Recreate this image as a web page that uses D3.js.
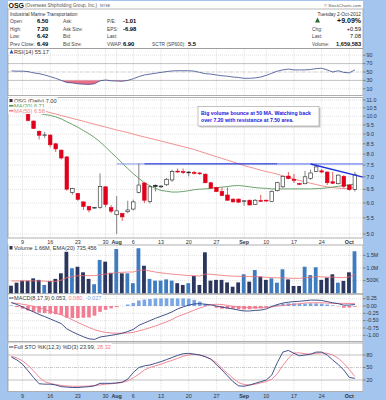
<!DOCTYPE html>
<html><head><meta charset="utf-8">
<script src="https://cdn.jsdelivr.net/npm/d3@7"></script>
<style>body{margin:0;background:#a3c5ee}svg{display:block;font-family:"Liberation Sans",Arial,sans-serif}</style>
</head><body><script>
// trading days, Jul 5 .. Oct 2 2012
const dates = ["07-05","07-06","07-09","07-10","07-11","07-12","07-13","07-16","07-17","07-18","07-19","07-20","07-23","07-24","07-25","07-26","07-27","07-30","07-31",
  "08-01","08-02","08-03","08-06","08-07","08-08","08-09","08-10","08-13","08-14","08-15","08-16","08-17","08-20","08-21","08-22","08-23","08-24","08-27","08-28","08-29","08-30","08-31",
  "09-04","09-05","09-06","09-07","09-10","09-11","09-12","09-13","09-14","09-17","09-18","09-19","09-20","09-21","09-24","09-25","09-26","09-27","09-28","10-01","10-02"];
const open = [10.95,10.70,10.50,10.12,9.72,9.15,8.95,8.95,8.50,8.19,7.87,6.38,6.35,6.04,5.88,5.84,5.85,6.60,5.84,
  5.60,5.64,5.70,5.79,6.39,6.75,6.06,6.66,6.60,6.68,6.87,7.24,7.22,7.20,7.18,7.16,7.11,6.76,6.58,6.42,6.29,6.14,6.14,
  6.07,6.10,5.95,6.09,6.10,6.05,6.45,6.60,7.03,6.90,6.73,6.72,6.93,7.23,7.25,7.20,6.80,6.72,7.02,6.67,6.50];
const high = [11.05,10.80,10.60,10.20,9.75,9.20,9.12,8.98,8.55,8.22,7.90,6.56,6.36,6.05,5.90,5.87,7.14,6.62,5.93,
  6.25,5.66,6.08,6.12,7.58,6.78,6.67,6.70,6.66,6.95,7.30,7.35,7.35,7.23,7.25,7.20,7.14,6.78,6.60,6.58,6.58,6.16,6.16,
  6.10,6.12,6.14,6.30,6.12,6.46,6.80,7.05,7.20,7.12,6.76,7.25,7.30,7.52,7.33,7.22,7.20,7.10,7.07,6.70,7.20];
const low = [10.60,10.40,10.25,9.70,9.28,8.72,8.80,8.32,8.10,7.75,6.45,6.30,6.08,5.76,5.68,5.80,5.80,5.85,5.65,
  5.00,5.40,5.65,5.74,6.35,6.00,5.98,6.42,6.55,6.63,6.80,7.17,7.12,7.02,7.10,7.08,6.74,6.52,6.40,6.25,6.08,6.02,6.00,
  5.90,5.92,5.93,6.05,6.05,6.03,6.42,6.55,6.90,6.75,6.68,6.70,6.88,7.20,7.15,6.67,6.72,6.70,6.55,6.45,6.42];
const close = [10.70,10.50,10.30,9.75,9.30,8.94,8.96,8.45,8.25,7.82,6.51,6.53,6.13,5.88,5.76,5.85,6.62,5.95,5.72,
  5.73,5.53,5.76,6.04,6.67,6.10,6.60,6.61,6.63,6.90,7.22,7.20,7.18,7.19,7.15,7.14,6.76,6.55,6.42,6.27,6.10,6.04,6.03,
  6.08,5.93,6.10,6.08,6.07,6.43,6.76,7.02,6.93,6.85,6.70,7.00,7.16,7.42,7.20,6.76,6.74,7.07,6.62,6.49,7.08];
const ma20 = [10.33,10.31,10.28,10.25,10.21,10.17,10.10,10.05,9.96,9.84,9.68,9.53,9.37,9.19,9.02,8.82,8.60,8.34,8.08,
  7.84,7.59,7.35,7.13,6.94,6.76,6.64,6.54,6.46,6.43,6.40,6.40,6.42,6.45,6.49,6.51,6.52,6.54,6.56,6.59,6.61,6.64,6.65,
  6.63,6.60,6.57,6.55,6.54,6.52,6.52,6.52,6.52,6.52,6.52,6.52,6.52,6.53,6.54,6.56,6.59,6.62,6.65,6.68,6.71];
const ma50 = [10.43,10.42,10.41,10.40,10.37,10.34,10.30,10.21,10.13,10.04,9.96,9.87,9.79,9.71,9.62,9.54,9.46,9.38,9.30,
  9.22,9.15,9.08,9.00,8.92,8.85,8.78,8.71,8.64,8.57,8.50,8.43,8.36,8.29,8.22,8.13,8.05,7.96,7.88,7.80,7.72,7.64,7.56,
  7.48,7.41,7.35,7.28,7.22,7.17,7.11,7.04,6.98,6.91,6.85,6.80,6.74,6.69,6.64,6.60,6.57,6.55,6.53,6.54,6.58];
// volume in millions
const volume = [0.30,0.42,0.50,0.50,0.59,0.53,0.33,0.49,0.57,0.79,1.64,0.99,1.05,0.83,0.57,0.36,1.32,1.25,0.81,
  1.75,0.79,0.79,0.40,1.78,1.09,0.57,0.50,0.50,0.55,0.50,0.40,0.33,0.40,0.68,0.33,1.62,0.50,0.53,0.53,0.43,0.26,0.43,
  0.75,0.46,0.92,0.66,0.53,0.59,0.42,0.95,0.55,0.29,0.29,1.05,0.72,1.03,0.53,0.62,0.75,0.42,0.49,0.83,1.66];
const volEma = [0.49,0.49,0.49,0.49,0.49,0.49,0.48,0.47,0.47,0.52,0.62,0.66,0.69,0.70,0.70,0.70,0.73,0.76,0.78,
  0.82,0.83,0.84,0.84,0.91,0.92,0.88,0.84,0.81,0.78,0.76,0.74,0.72,0.70,0.70,0.68,0.76,0.75,0.73,0.71,0.69,0.68,0.67,
  0.67,0.66,0.66,0.65,0.63,0.62,0.61,0.61,0.60,0.59,0.59,0.62,0.63,0.66,0.65,0.64,0.64,0.62,0.62,0.65,0.735];
const rsi = [52.5,52,52,51,48,46,43,39,35,30,25,24,22,21,20.5,22,29,31,29,
  28.5,28,30,34,39,43,45,47,49,51,52.5,53,53,53,52,49,46,45,43,41,40,38,37,
  35,35,36,38,42,47,52,55,57,55,55,55,56,58,59,55,50,53,49,48,55.17];
const macd = [0.12,0.05,-0.03,-0.12,-0.20,-0.29,-0.36,-0.44,-0.52,-0.60,-0.78,-0.88,-0.97,-1.05,-1.12,-1.14,-1.06,-1.03,-1.00,
  -0.97,-0.93,-0.87,-0.80,-0.66,-0.58,-0.50,-0.42,-0.35,-0.28,-0.20,-0.10,-0.03,0.03,0.07,0.08,0.06,0.04,0.00,-0.04,-0.07,-0.10,-0.14,
  -0.17,-0.17,-0.15,-0.14,-0.10,-0.02,0.05,0.10,0.13,0.15,0.16,0.18,0.20,0.20,0.19,0.15,0.11,0.08,0.03,0.03,0.053];
const signal = [0.10,0.09,0.06,0.03,-0.01,-0.06,-0.12,-0.18,-0.24,-0.30,-0.38,-0.47,-0.56,-0.65,-0.73,-0.81,-0.86,-0.90,-0.92,
  -0.93,-0.93,-0.92,-0.90,-0.85,-0.80,-0.74,-0.68,-0.61,-0.54,-0.46,-0.36,-0.29,-0.22,-0.14,-0.07,-0.01,0.04,0.06,0.05,0.02,-0.01,-0.03,
  -0.05,-0.06,-0.06,-0.06,-0.05,-0.03,0.00,0.02,0.04,0.06,0.08,0.10,0.11,0.11,0.11,0.10,0.09,0.09,0.09,0.085,0.080];
const stoK = [75,68,58,42,26,11,10,10,8,4,3,2,2,3,4,6,12,12,12,
  13,15,22,38,50,54,56,60,64,69,74,79,83,84,82,80,76,70,57,44,30,16,6,
  5,8,12,16,20,32,62,87,91,84,78,80,82,87,87,80,68,57,44,26,23.99];
const stoD = [77,73,66,55,42,27,16,12,9,7,5.5,5,5,5,5.5,7,8,10,11,
  12,14,18,25,34,44,50,54,58,63,67,72,77,80,82,80,76,70,62,48,36,24,14,
  9,8,10,13,16,22,35,55,72,85,85,83,82,84,85,84,80,72,60,45,28.32];

const priceTicks = [5.0,5.5,6.0,6.5,7.0,7.5,8.0,8.5,9.0,9.5,10.0,10.5,11.0];
const rsiTicks = [90,70,50,30,10];
const volTicks = [0.5,1.0,1.5], volTickLabels = ["500K","1.0M","1.5M"];
const macdTicks = [0.25,0,-0.25,-0.5,-0.75,-1], macdTickLabels = ["0.25","0.00","-0.25","-0.50","-0.75","-1.00"];
const stoTicks = [80,50,20];
const xTickDates = ["07-09","07-16","07-23","07-30","08-01","08-06","08-13","08-20","08-27","09-04","09-10","09-17","09-24","10-01"];
const xTickLabels = ["9","16","23","30","Aug","6","13","20","27","Sep","10","17","24","Oct"];
const resistance = [["08-01","08-08",7.55,"#8394ee",1],["08-08","09-12",7.55,"#1f34d6",1.2],["09-12",null,7.55,"#4c60ee",1]];
const trend = [["09-20",7.55],["10-02",7.07]];

const W = 386, H = 400, L = 8, R = 363;
const P = {rsi:[48.5,95.5], price:[97.5,238], vol:[245,294], macd:[294,341.5], sto:[343,391.5]};
const idx = d => dates.indexOf(d);
const x = d3.scaleLinear().domain([0, dates.length - 1]).range([11.4, 354.9]);
const rsiY = d3.scaleLinear().domain([0,100]).range([93,51]);
const priceY = d3.scaleLog().domain([5,11]).range([234,100]);
const volY = d3.scaleLinear().domain([0,1]).range([293.3,268]);
const macdY = d3.scaleLinear().domain([-1,0]).range([335.3,306]);
const stoY = d3.scaleLinear().domain([20,80]).range([380,355]);

const svg = d3.select("body").append("svg").attr("width", W).attr("height", H);
svg.append("rect").attr("width", W).attr("height", H).attr("fill", "#a3c5ee");
svg.append("rect").attr("x", L).attr("y", 1).attr("width", R - L).attr("height", 391).attr("fill", "#fff");

function panel(id, [top, bottom]) {
  svg.append("clipPath").attr("id", id).append("rect")
    .attr("x", L).attr("y", top).attr("width", R - L).attr("height", bottom - top);
  const g = svg.append("g").attr("clip-path", `url(#${id})`);
  // vertical date grid
  xTickDates.forEach(d => {
    g.append("line").attr("x1", x(idx(d))).attr("x2", x(idx(d))).attr("y1", top).attr("y2", bottom)
      .attr("stroke", "#c8c8c8").attr("stroke-width", 0.6).attr("stroke-dasharray", "1,1");
  });
  return g;
}
function hline(g, y, color, dash, w) {
  g.append("line").attr("x1", L).attr("x2", R).attr("y1", y).attr("y2", y)
    .attr("stroke", color).attr("stroke-width", w || 0.6).attr("stroke-dasharray", dash || null);
}
function axis(ticks, labels, scale) {
  ticks.forEach((t, i) => {
    svg.append("line").attr("x1", R).attr("x2", R + 2.5).attr("y1", scale(t)).attr("y2", scale(t)).attr("stroke", "#555").attr("stroke-width", 0.6);
    svg.append("text").attr("x", R + 3.5).attr("y", scale(t) + 1.8).attr("font-size", 5.3).attr("fill", "#333").text(labels[i]);
  });
}
function legend(yy, parts, icon) {
  const t = svg.append("text").attr("x", 14).attr("y", yy).attr("font-size", 5.6);
  parts.forEach(p => t.append("tspan").attr("fill", p[1]).text(p[0]));
  const bb = t.node().getBBox();
  svg.insert("rect", () => t.node()).attr("x", 8.5).attr("y", bb.y - 0.3).attr("width", bb.x + bb.width - 7.5).attr("height", bb.height + 0.6).attr("fill", "#fff");
  if (icon) icon(yy);
  return bb;
}

// ---- RSI
const gRsi = panel("cRsi", P.rsi);
hline(gRsi, rsiY(90), "#d0d0d0", "1,1"); hline(gRsi, rsiY(10), "#d0d0d0", "1,1");
hline(gRsi, rsiY(70), "#999"); hline(gRsi, rsiY(30), "#999");
hline(gRsi, rsiY(50), "#aaa", "3,1,1,1");
gRsi.append("path").datum(rsi)
  .attr("d", d3.area().x((d, i) => x(i)).y0(rsiY(30)).y1(d => rsiY(Math.min(d, 30))))
  .attr("fill", "#ef6d86");
gRsi.append("path").datum(rsi).attr("d", d3.line().x((d, i) => x(i)).y(d => rsiY(d)))
  .attr("fill", "none").attr("stroke", "#3a4c8e").attr("stroke-width", 0.8);

// ---- price
const gP = panel("cPrice", P.price);
priceTicks.forEach(t => hline(gP, priceY(t), "#cfcfcf", "1,1"));
gP.append("path").datum(ma50).attr("d", d3.line().x((d, i) => x(i)).y(d => priceY(d)))
  .attr("fill", "none").attr("stroke", "#f08585").attr("stroke-width", 0.9);
gP.append("path").datum(ma20).attr("d", d3.line().x((d, i) => x(i)).y(d => priceY(d)))
  .attr("fill", "none").attr("stroke", "#5c9a5c").attr("stroke-width", 0.9);
resistance.forEach(([a, b, p, c, w]) => {
  gP.append("line").attr("x1", x(idx(a))).attr("x2", b ? x(idx(b)) : R + 2)
    .attr("y1", priceY(p)).attr("y2", priceY(p)).attr("stroke", c).attr("stroke-width", w);
});
close.forEach((c, i) => {
  const o = open[i], up = i === 0 || c >= close[i - 1];
  const col = up ? "#222" : "#e0001c";
  gP.append("line").attr("x1", x(i)).attr("x2", x(i)).attr("y1", priceY(high[i])).attr("y2", priceY(low[i]))
    .attr("stroke", up ? "#666" : "#d33").attr("stroke-width", 0.8);
  const y0 = priceY(Math.max(o, c)), y1 = priceY(Math.min(o, c));
  gP.append("rect").attr("x", x(i) - 1.8).attr("width", 3.6).attr("y", y0).attr("height", Math.max(0.8, y1 - y0))
    .attr("fill", c > o ? "#fff" : col).attr("stroke", col).attr("stroke-width", 0.6);
});
{
  const x0 = x(idx(trend[0][0])), y0 = priceY(trend[0][1]);
  const x1 = x(idx(trend[1][0])), y1 = priceY(trend[1][1]);
  const k = (y1 - y0) / (x1 - x0);
  svg.append("line").attr("x1", x0).attr("y1", y0).attr("x2", R + 3).attr("y2", y0 + k * (R + 3 - x0))
    .attr("stroke", "#1f34d6").attr("stroke-width", 1.4);
}
// annotation
const note = svg.append("g");
note.append("rect").attr("x", 199.5).attr("y", 108).attr("width", 121).attr("height", 19.5).attr("fill", "#ccc");
note.append("rect").attr("x", 198).attr("y", 106.5).attr("width", 121).attr("height", 19.5).attr("fill", "#fff").attr("stroke", "#999").attr("stroke-width", 0.6);
["Big volume bounce at 50 MA. Watching back", "over 7.20 with resistance at 7.50 area."].forEach((s, i) => {
  note.append("text").attr("x", 201).attr("y", 114.5 + i * 7).attr("font-size", 5.2).attr("font-weight", "bold").attr("fill", "#2020e0").text(s);
});

// ---- volume
const gV = panel("cVol", P.vol);
volTicks.forEach(t => hline(gV, volY(t), "#cfcfcf", "1,1"));
volume.forEach((v, i) => {
  const up = i > 0 && close[i] >= close[i - 1];
  gV.append("rect").attr("x", x(i) - 2.3).attr("width", 3.8).attr("y", volY(v)).attr("height", volY(0) - volY(v))
    .attr("fill", up ? "#3d7cc0" : "#2b365e");
});
gV.append("path").datum(volEma).attr("d", d3.line().x((d, i) => x(i)).y(d => volY(d)))
  .attr("fill", "none").attr("stroke", "#f07070").attr("stroke-width", 0.8);

// ---- MACD
const gM = panel("cMacd", P.macd);
macdTicks.forEach(t => hline(gM, macdY(t), "#cfcfcf", "1,1"));
macd.forEach((m, i) => {
  const h = m - signal[i];
  gM.append("rect").attr("x", x(i) - 1.8).attr("width", 3.6).attr("y", macdY(Math.max(h, 0))).attr("height", Math.abs(macdY(h) - macdY(0)))
    .attr("fill", h >= 0 ? "#78a6e6" : "#f27c92");
});
gM.append("path").datum(signal).attr("d", d3.line().x((d, i) => x(i)).y(d => macdY(d)))
  .attr("fill", "none").attr("stroke", "#f07a8a").attr("stroke-width", 0.9);
gM.append("path").datum(macd).attr("d", d3.line().x((d, i) => x(i)).y(d => macdY(d)))
  .attr("fill", "none").attr("stroke", "#2e3f7e").attr("stroke-width", 0.9);

// ---- slow stochastics
const gS = panel("cSto", P.sto);
hline(gS, stoY(80), "#999"); hline(gS, stoY(20), "#999");
hline(gS, stoY(50), "#aaa", "3,1,1,1");
gS.append("path").datum(stoD).attr("d", d3.line().x((d, i) => x(i)).y(d => stoY(d)))
  .attr("fill", "none").attr("stroke", "#f07a8a").attr("stroke-width", 0.9);
gS.append("path").datum(stoK).attr("d", d3.line().x((d, i) => x(i)).y(d => stoY(d)))
  .attr("fill", "none").attr("stroke", "#2e3f7e").attr("stroke-width", 0.9);

// panel frames
Object.values(P).forEach(([t, b]) => {
  svg.append("rect").attr("x", L).attr("y", t).attr("width", R - L).attr("height", b - t)
    .attr("fill", "none").attr("stroke", "#8c8c8c").attr("stroke-width", 0.7);
});
svg.append("rect").attr("x", R).attr("y", 9).attr("width", W - R).attr("height", H - 9).attr("fill", "#a3c5ee");
svg.append("rect").attr("x", 0).attr("y", 392).attr("width", W).attr("height", 8).attr("fill", "#a3c5ee");

// legends
legend(53.5, [["RSI(14) 55.17", "#333"]], y => svg.append("path").attr("d", `M9.5,${y}l2,-4l2,4z`).attr("fill", "#3355aa"));
svg.append("rect").attr("x", 8.5).attr("y", 98).attr("width", 33.5).attr("height", 16).attr("fill", "#fff");
legend(102.5, [["OSG (Daily) 7.00", "#333"]], y => svg.append("rect").attr("x", 9.5).attr("y", y - 3.5).attr("width", 3).attr("height", 3.5).attr("fill", "#333"));
legend(107.5, [["MA(20) 6.71", "#5c9a5c"]], y => svg.append("rect").attr("x", 9).attr("y", y - 2.5).attr("width", 4.5).attr("height", 1.6).attr("fill", "#5c9a5c"));
legend(112.5, [["MA(50) 6.58", "#f08585"]], y => svg.append("rect").attr("x", 9).attr("y", y - 2.5).attr("width", 4.5).attr("height", 1.6).attr("fill", "#f08585"));
legend(249.5, [["Volume 1.66M, EMA(20) 735,456", "#333"]], y => svg.append("rect").attr("x", 9.5).attr("y", y - 3.5).attr("width", 3).attr("height", 3.5).attr("fill", "#2b365e"));
legend(299.5, [["MACD(8,17,9) 0.053, ", "#333"], ["0.080, ", "#f07a8a"], ["-0.027", "#78a6e6"]], y => svg.append("rect").attr("x", 9).attr("y", y - 2).attr("width", 4.5).attr("height", 1).attr("fill", "#2e3f7e"));
legend(348.5, [["Full STO %K(12,3) %D(3) 23.99, ", "#333"], ["28.32", "#f07a8a"]], y => svg.append("rect").attr("x", 9).attr("y", y - 2).attr("width", 4.5).attr("height", 1).attr("fill", "#2e3f7e"));

// right axes
axis(rsiTicks, rsiTicks.map(String), rsiY);
axis(priceTicks, priceTicks.map(d3.format(".1f")), priceY);
axis(volTicks, volTickLabels, volY);
axis(macdTicks, macdTickLabels, macdY);
axis(stoTicks, stoTicks.map(String), stoY);

// date labels
[243.8, 397.6].forEach(yy => {
  xTickDates.forEach((d, i) => {
    const bold = isNaN(+xTickLabels[i]);
    svg.append("text").attr("x", x(idx(d))).attr("y", yy).attr("text-anchor", "middle")
      .attr("font-size", 5.4).attr("font-weight", bold ? "bold" : null).attr("fill", "#333").text(xTickLabels[i]);
  });
});

// header
const hd = svg.append("g");
hd.append("text").attr("x", 8.5).attr("y", 7.6).attr("font-size", 7).attr("font-weight", "bold").attr("fill", "#111").text("OSG");
hd.append("text").attr("x", 25).attr("y", 7.4).attr("font-size", 4.6).attr("fill", "#555").text("(Overseas Shipholding Group, Inc.)");
hd.append("text").attr("x", 100).attr("y", 7.4).attr("font-size", 3.8).attr("fill", "#555").text("NYSE");
hd.append("text").attr("x", 361).attr("y", 6.8).attr("text-anchor", "end").attr("font-size", 4.3).attr("fill", "#555").text("© StockCharts.com");
hd.append("rect").attr("x", L).attr("y", 9).attr("width", R - L).attr("height", 39.5).attr("fill", "none").attr("stroke", "#999").attr("stroke-width", 0.7);
hd.append("text").attr("x", 10).attr("y", 15.8).attr("font-size", 4.8).attr("fill", "#333").text("Industrial Marine Transportation");
const rowsY = [23, 30.5, 38, 45.5];
const cells = [
  [10, ["Open:", "High:", "Low:", "Prev Close:"], false], [37, ["6.50", "7.20", "6.42", "6.49"], true],
  [63, ["Ask:", "Ask Size:", "Bid:", "Bid Size:"], false],
  [107, ["P/E:", "EPS:", "Last:", "VWAP:"], false], [123, ["-1.01", "-6.98", "", "6.90"], true],
  [152, ["", "", "", "SCTR (SP600):"], false], [188, ["", "", "", "5.5"], true]
];
cells.forEach(([cx, list, bold]) => list.forEach((s, r) => {
  hd.append("text").attr("x", cx).attr("y", rowsY[r]).attr("font-size", bold ? 5.8 : 4.8)
    .attr("font-weight", bold ? "bold" : null).attr("fill", bold ? "#000" : "#444").text(s);
}));
hd.append("text").attr("x", 361).attr("y", 15.8).attr("text-anchor", "end").attr("font-size", 4.8).attr("fill", "#333").text("Tuesday   2-Oct-2012");
hd.append("path").attr("d", "M315,22.5l2.5,-5l2.5,5z").attr("fill", "#2d6b2d");
hd.append("text").attr("x", 361).attr("y", 23).attr("text-anchor", "end").attr("font-size", 7).attr("font-weight", "bold").attr("fill", "#111").text("+9.09%");
[["Chg:", "+0.59", false], ["Last:", "7.08", false], ["Volume:", "1,659,583", true]].forEach(([a, b, bold], r) => {
  hd.append("text").attr("x", 312).attr("y", rowsY[r + 1]).attr("font-size", 4.8).attr("fill", "#444").text(a);
  hd.append("text").attr("x", 361).attr("y", rowsY[r + 1]).attr("text-anchor", "end").attr("font-size", 5.6)
    .attr("font-weight", bold ? "bold" : null).attr("fill", "#111").text(b);
});
</script></body></html>
